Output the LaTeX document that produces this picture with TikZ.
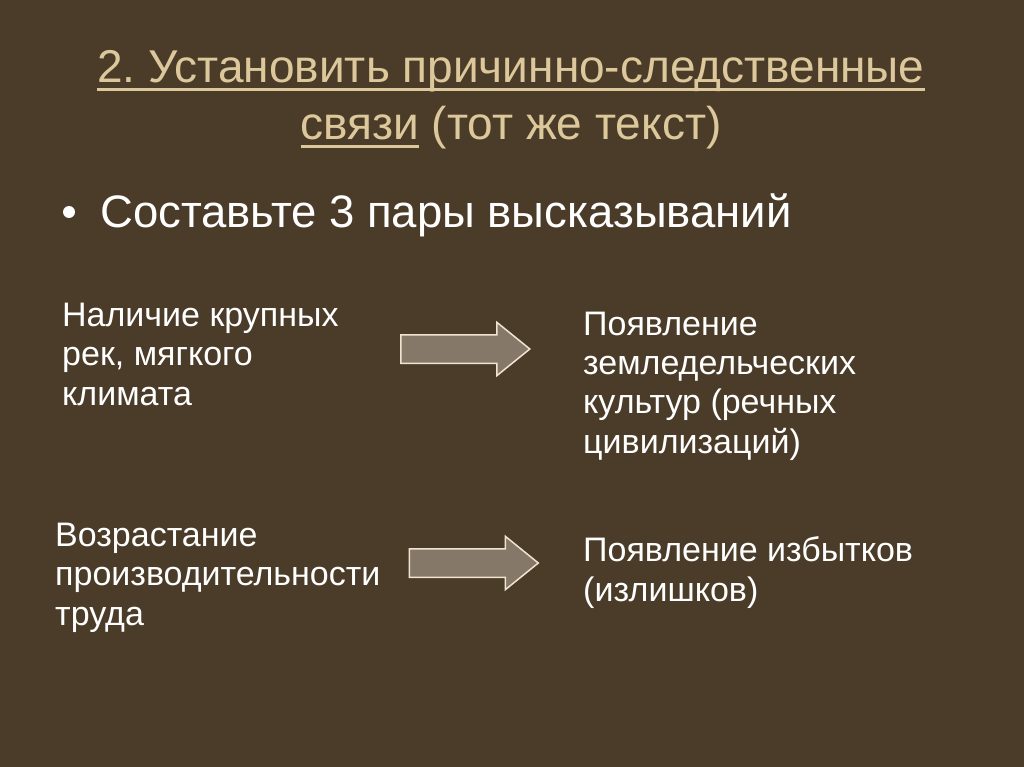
\documentclass[tikz,border=0pt]{standalone}
\usepackage{fontspec}
\setmainfont{Liberation Sans}
\newfontfamily\titlefont{Liberation Sans}
\newsavebox\linkbox
\newcommand\linkline[1]{\sbox\linkbox{#1}\rlap{\rule[-8pt]{\wd\linkbox}{2.6pt}}\usebox\linkbox}
\usetikzlibrary{shapes.arrows, positioning}
\definecolor{slidebg}{HTML}{4B3C29}
\definecolor{titletan}{HTML}{DDC89C}
\definecolor{arrowfill}{HTML}{867869}
\definecolor{arrowrim}{HTML}{F1E4CF}
\tikzset{
titletext/.style={text=titletan, font=\titlefont\fontsize{46}{57}\selectfont, align=center, inner sep=0pt}, % slide heading
bodytext/.style={text=white, font=\fontsize{34}{39.3}\selectfont, align=left, anchor=base west, inner sep=0pt}, % the pairs, placed by their last line
fatarrow/.style={single arrow, draw=arrowrim, line width=1.5pt, fill=arrowfill, minimum height=129pt, minimum width=0pt, inner xsep=0pt, inner ysep=13.5pt, single arrow head extend=12.5pt, single arrow tip angle=78}, % points from cause to result
}
\begin{document}
\begin{tikzpicture}[x=1pt, y=-1pt]
    \fill[slidebg] (0,0) rectangle (1024,767);
    \useasboundingbox (0,0) rectangle (1024,767);
    \node[titletext, anchor=base] (title) at (511,140) {\linkline{2.\ Установить причинно-следственные}\\\linkline{связи} (тот же текст)};
    \node[text=white, font=\fontsize{45.5}{48}\selectfont, anchor=base west, inner sep=0pt] (task) at (100,228) {Составьте 3 пары высказываний};
    \fill[white] (69,212) circle (6);
    \node[bodytext] (cause1) at (62,405) {Наличие крупных\\рек, мягкого\\климата};
    \node[bodytext] (effect1) at (583,453) {Появление\\земледельческих\\культур (речных\\цивилизаций)};
    \node[bodytext] (cause2) at (55,625) {Возрастание\\производительности\\труда};
    \node[bodytext] (effect2) at (583,601) {Появление избытков\\(излишков)};
    \node[fatarrow] (arrow1) at (456.5,349) {};
    \node[fatarrow] (arrow2) at (465,563) {};
\end{tikzpicture}
\end{document}
